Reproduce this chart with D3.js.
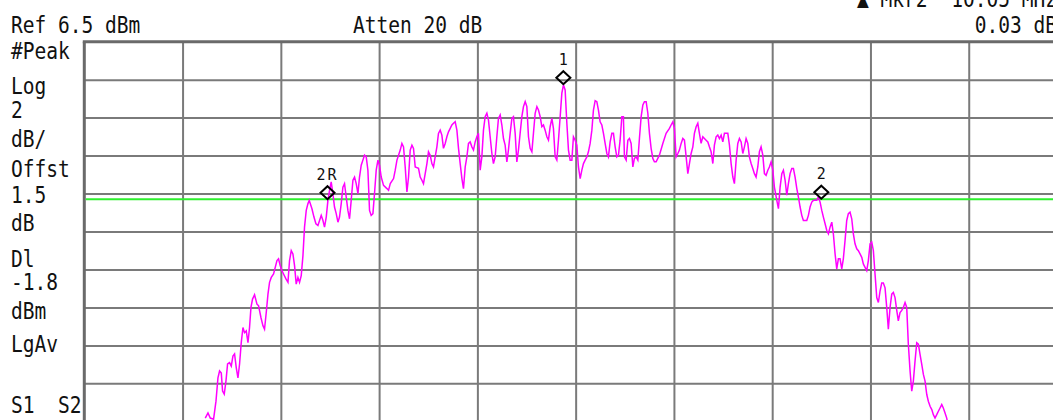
<!DOCTYPE html>
<html>
<head>
<meta charset="utf-8">
<script src="https://cdn.jsdelivr.net/npm/d3@7"></script>
<style>
  html, body { margin: 0; padding: 0; background: #fff; overflow: hidden; }
  svg { display: block; }
  text { font-family: "DejaVu Sans Mono", "Liberation Mono", monospace; fill: #111; }
</style>
</head>
<body>
<svg id="chart" width="1053" height="420"></svg>
<script>
// Instrument settings
const refLevel = 6.5;        // dBm at top graticule line
const dbPerDiv = 2;
const divisions = 10;
const centerOffset = 0;      // MHz, trace frequencies are offsets from centre
const spanMHz = 20;
const displayLine = -1.8;    // dBm

// Trace: frequency offset (MHz) and level (dBm)
const traceFreq = [
  -7.538,-7.483,-7.436,-7.369,-7.320,-7.280,-7.247,-7.212,-7.186,-7.152,
  -7.117,-7.084,-7.044,-7.009,-6.975,-6.942,-6.907,-6.873,-6.840,-6.806,
  -6.771,-6.739,-6.704,-6.669,-6.637,-6.608,-6.576,-6.535,-6.486,-6.454,
  -6.405,-6.364,-6.332,-6.297,-6.262,-6.230,-6.195,-6.148,-6.114,-6.079,
  -6.047,-6.012,-5.978,-5.945,-5.896,-5.855,-5.823,-5.788,-5.754,-5.721,
  -5.687,-5.652,-5.619,-5.585,-5.550,-5.518,-5.483,-5.448,-5.422,-5.367,
  -5.326,-5.286,-5.245,-5.212,-5.178,-5.143,-5.111,-5.076,-5.042,-5.009,
  -4.975,-4.940,-4.908,-4.873,-4.838,-4.806,-4.771,-4.737,-4.704,-4.670,
  -4.635,-4.602,-4.568,-4.533,-4.500,-4.466,-4.431,-4.399,-4.364,-4.330,
  -4.297,-4.262,-4.228,-4.195,-4.161,-4.126,-4.094,-4.059,-4.024,-3.992,
  -3.957,-3.910,-3.841,-3.808,-3.773,-3.706,-3.672,-3.637,-3.570,-3.536,
  -3.503,-3.469,-3.434,-3.401,-3.367,-3.332,-3.300,-3.265,-3.198,-3.164,
  -3.129,-3.097,-3.062,-3.027,-2.995,-2.960,-2.926,-2.893,-2.859,-2.824,
  -2.792,-2.757,-2.723,-2.690,-2.655,-2.621,-2.588,-2.553,-2.519,-2.486,
  -2.452,-2.417,-2.384,-2.350,-2.315,-2.283,-2.248,-2.214,-2.181,-2.147,
  -2.112,-2.079,-2.045,-2.011,-1.978,-1.943,-1.909,-1.876,-1.842,-1.807,
  -1.774,-1.740,-1.705,-1.673,-1.638,-1.604,-1.571,-1.536,-1.502,-1.469,
  -1.435,-1.400,-1.368,-1.333,-1.298,-1.266,-1.231,-1.197,-1.164,-1.130,
  -1.095,-1.062,-1.027,-0.993,-0.960,-0.926,-0.891,-0.859,-0.824,-0.789,
  -0.757,-0.722,-0.688,-0.655,-0.621,-0.586,-0.553,-0.519,-0.484,-0.452,
  -0.417,-0.383,-0.350,-0.315,-0.281,-0.248,-0.214,-0.179,-0.146,-0.112,
  -0.077,-0.045,-0.010,0.024,0.057,0.092,0.126,0.159,0.193,0.228,
  0.260,0.295,0.330,0.362,0.397,0.431,0.464,0.498,0.533,0.566,
  0.600,0.635,0.667,0.702,0.737,0.769,0.804,0.838,0.871,0.905,
  0.940,0.972,0.993,1.028,1.062,1.095,1.129,1.164,1.196,1.231,
  1.266,1.298,1.333,1.368,1.400,1.435,1.469,1.502,1.536,1.571,
  1.603,1.638,1.672,1.705,1.774,1.841,1.909,1.943,1.978,2.010,
  2.045,2.080,2.112,2.147,2.181,2.214,2.249,2.283,2.316,2.350,
  2.385,2.417,2.452,2.486,2.519,2.553,2.588,2.621,2.655,2.690,
  2.722,2.757,2.792,2.824,2.859,2.893,2.926,2.961,2.995,3.028,
  3.062,3.097,3.130,3.164,3.199,3.231,3.266,3.300,3.333,3.368,
  3.402,3.435,3.469,3.504,3.536,3.571,3.605,3.638,3.672,3.707,
  3.740,3.774,3.809,3.842,3.876,3.911,3.943,3.978,4.013,4.045,
  4.094,4.127,4.161,4.196,4.228,4.263,4.297,4.330,4.364,4.399,
  4.432,4.466,4.501,4.533,4.568,4.602,4.635,4.704,4.737,4.771,
  4.806,4.838,4.907,4.940,4.975,5.009,5.042,5.077,5.111,5.144,
  5.178,5.213,5.245,5.280,5.314,5.347,5.381,5.416,5.448,5.483,
  5.517,5.550,5.584,5.619,5.652,5.686,5.721,5.754,5.788,5.823,
  5.855,5.890,5.924,5.957,5.992,6.026,6.059,6.093,6.128,6.161,
  6.195,6.230,6.262,6.297,6.331,6.364,6.399,6.433,6.466,6.500,
  6.535,6.567,6.602,6.637,6.669,6.704,6.738,6.771,6.806,6.840,
  6.873,6.907,6.942,6.975,7.009,7.044,7.077,7.111,7.146,7.178,
  7.213,7.248,7.280,7.314,7.349,7.382,7.416,7.451,7.483,7.518,
  7.552,7.579
];
const traceLevel = [
  -13.33,-13.06,-13.33,-13.39,-12.44,-11.21,-10.85,-10.96,-11.91,-12.07,
  -11.38,-10.48,-10.41,-10.59,-10.06,-9.95,-10.68,-11.21,-10.48,-9.36,
  -8.56,-8.83,-8.74,-9.36,-8.56,-7.50,-7.06,-6.83,-7.33,-7.41,
  -8.03,-8.47,-8.65,-7.77,-6.80,-6.18,-5.92,-5.74,-5.39,-5.03,
  -4.94,-5.30,-5.56,-5.74,-6.00,-6.18,-5.03,-4.51,-4.68,-5.30,
  -6.27,-5.92,-6.18,-5.83,-4.77,-3.27,-2.39,-2.03,-1.86,-2.30,
  -2.74,-3.09,-3.18,-2.92,-2.65,-2.92,-3.27,-2.74,-1.86,-1.33,
  -0.89,-1.51,-2.21,-2.56,-3.01,-2.74,-2.03,-1.16,-0.98,-1.68,
  -2.39,-2.83,-1.86,-0.80,-0.63,-0.98,-1.51,-0.63,-0.01,0.26,
  0.52,0.43,-0.27,-2.39,-2.65,-2.56,-1.51,-0.27,0.26,-0.01,
  -0.63,-1.07,-1.24,-1.33,-0.98,-0.71,-0.27,0.26,0.79,1.14,
  0.96,-0.10,-1.42,-0.63,0.79,1.05,0.88,-0.10,-0.17,-0.63,
  -0.80,-0.98,-0.45,0.08,0.70,0.52,0.08,-0.10,0.43,0.96,
  1.67,1.84,1.58,0.88,1.14,1.49,1.75,1.93,2.11,2.20,
  2.28,1.84,0.88,0.08,-0.71,-1.24,-0.10,0.43,1.14,1.22,
  0.96,0.79,1.22,1.49,1.67,-0.27,0.43,1.84,2.55,2.73,
  2.37,1.49,0.61,0.08,0.43,1.49,2.46,2.64,2.11,1.40,
  1.05,0.17,0.79,1.67,2.46,2.55,1.67,0.17,0.79,1.67,
  2.55,3.08,3.34,3.08,1.49,0.88,0.70,1.67,2.73,3.08,
  2.90,2.55,2.02,2.11,1.84,1.49,1.31,2.02,2.46,1.93,
  0.43,0.26,1.31,2.55,3.79,4.22,3.96,2.20,0.79,0.26,
  0.26,1.49,1.31,1.05,-0.10,-0.71,-0.27,0.08,0.26,0.43,
  0.70,1.14,1.84,2.90,3.39,3.34,2.90,2.28,2.11,1.67,
  1.14,0.61,0.43,1.22,1.67,1.67,0.96,0.43,0.52,1.31,
  2.55,2.55,0.43,0.26,1.31,1.40,1.14,-0.10,0.35,0.43,
  0.26,1.40,2.55,3.17,3.34,3.34,2.73,1.67,0.88,0.35,
  0.17,0.17,0.35,0.52,1.14,1.67,1.93,2.11,2.28,1.93,
  0.43,0.61,0.79,1.14,1.40,1.31,0.43,-0.45,0.08,0.61,
  0.96,1.67,2.02,2.20,1.67,1.14,1.49,1.40,1.31,1.22,
  0.96,0.70,0.08,1.05,1.49,1.58,1.40,1.58,1.22,1.67,
  1.67,1.67,1.05,0.08,-0.63,-0.98,0.26,1.14,1.40,1.22,
  0.61,0.96,1.40,1.14,0.43,0.08,-0.18,-0.45,-0.63,-0.10,
  0.70,0.96,0.52,-0.45,-0.54,-0.27,-0.10,0.17,-0.27,-1.16,
  -1.86,-2.30,-1.16,-0.45,-0.27,-0.80,-1.58,-0.98,-0.45,-0.18,
  -0.18,-0.63,-1.24,-1.68,-2.21,-2.65,-2.92,-2.92,-2.65,-2.21,
  -1.95,-1.86,-1.86,-1.68,-1.95,-2.39,-2.74,-3.09,-3.45,-3.62,
  -3.27,-3.01,-3.62,-4.68,-5.47,-4.94,-4.94,-5.47,-4.94,-3.97,
  -2.92,-2.56,-2.48,-2.83,-3.62,-4.15,-4.41,-4.51,-4.68,-4.86,
  -5.21,-5.39,-5.56,-5.03,-4.15,-4.06,-4.51,-5.74,-6.98,-7.24,
  -6.64,-6.21,-6.21,-6.47,-7.50,-8.65,-7.50,-6.80,-6.71,-6.98,
  -7.66,-8.21,-7.77,-7.66,-7.50,-7.24,-7.50,-9.44,-10.85,-11.91,
  -11.38,-10.33,-9.36,-9.44,-9.97,-10.50,-11.03,-11.38,-12.09,-12.44,
  -12.71,-12.88,-13.15,-13.33,-13.15,-12.97,-12.80,-12.62,-12.80,-13.06,
  -13.33,-13.73
];

// Markers
const markerNames = ["1", "2R", "2"];
const markerFreq  = [-0.25, -5.05, 5.00];
const markerLevel = [4.26, -1.80, -1.77];

// Annotation text
const headerLeft = "Ref 6.5 dBm";
const headerMid = "Atten 20 dB";
const deltaFreqText = "\u25B2 Mkr2  10.05 MHz";
const deltaAmpText = "0.03 dB";
const sideLabels = ["#Peak", "Log", "2", "dB/", "Offst", "1.5", "dB", "Dl", "-1.8", "dBm", "LgAv", "S1  S2"];

// ---- layout ----
const W = 1053, H = 420;
const plot = { left: 84.3, top: 41.7, width: 982.7, height: 379.6 };
const fontSize = 23, squeeze = 0.85;   // tall, narrow status font

const svg = d3.select("#chart");

const x = d3.scaleLinear()
  .domain([centerOffset - spanMHz / 2, centerOffset + spanMHz / 2])
  .range([plot.left, plot.left + plot.width]);
const y = d3.scaleLinear()
  .domain([refLevel - dbPerDiv * divisions, refLevel])
  .range([plot.top + plot.height, plot.top]);

const xDiv = d3.range(1, divisions).map(i => x.domain()[0] + i * spanMHz / divisions);
const yDiv = d3.range(1, divisions + 1).map(i => refLevel - i * dbPerDiv);

// graticule
const gridColor = "#7a7a7a";
const gx = svg.append("g")
  .attr("transform", `translate(0,${plot.top})`)
  .call(d3.axisBottom(x).tickValues(xDiv).tickSize(plot.height).tickFormat(""));
const gy = svg.append("g")
  .attr("transform", `translate(${plot.left},0)`)
  .call(d3.axisRight(y).tickValues(yDiv).tickSize(plot.width).tickFormat(""));
[gx, gy].forEach(g => {
  g.select(".domain").remove();
  g.selectAll(".tick line").attr("stroke", gridColor).attr("stroke-width", 2);
});

// heavier frame on top and left edges
svg.append("line")
  .attr("x1", plot.left - 1.5).attr("x2", W + 5)
  .attr("y1", y(refLevel)).attr("y2", y(refLevel))
  .attr("stroke", "#6a6a6a").attr("stroke-width", 3);
svg.append("line")
  .attr("x1", x(x.domain()[0])).attr("x2", x(x.domain()[0]))
  .attr("y1", plot.top).attr("y2", H + 5)
  .attr("stroke", "#6a6a6a").attr("stroke-width", 3);

// display line
svg.append("line")
  .attr("x1", plot.left + 1.5).attr("x2", W + 5)
  .attr("y1", y(displayLine)).attr("y2", y(displayLine))
  .attr("stroke", "#2ef02e").attr("stroke-width", 2);

// trace
const traceData = traceFreq.map((f, i) => ({ f, v: traceLevel[i] }));
svg.append("path")
  .datum(traceData)
  .attr("fill", "none")
  .attr("stroke", "#ff00ff")
  .attr("stroke-width", 1.5)
  .attr("stroke-linejoin", "miter")
  .attr("d", d3.line().x(d => x(d.f)).y(d => y(d.v)));

// markers: diamond resting on the marked point, number above
const markers = markerNames.map((name, i) => ({ name, f: markerFreq[i], v: markerLevel[i] }));
const mg = svg.append("g").selectAll("g").data(markers).join("g")
  .attr("transform", d => `translate(${x(d.f)},${y(d.v) - 6.5})`);
mg.append("path")
  .attr("d", "M0,-6.5L7,0L0,6.5L-7,0Z")
  .attr("fill", "none")
  .attr("stroke", "#000")
  .attr("stroke-width", 2);
mg.append("text")
  .attr("y", -13)
  .attr("text-anchor", "middle")
  .style("font-size", "15px")
  .attr("letter-spacing", d => d.name.length > 1 ? 2 : 0)
  .text(d => d.name);

// status texts, drawn in a condensed form of the mono font
function status(g, label, px, py, anchor) {
  return g.append("text")
    .attr("transform", `translate(${px},${py}) scale(${squeeze},1)`)
    .attr("text-anchor", anchor || "start")
    .attr("xml:space", "preserve")
    .style("white-space", "pre")
    .style("font-size", fontSize + "px")
    .text(label);
}

const hdr = svg.append("g");
status(hdr, headerLeft, 11, 33.3);
status(hdr, headerMid, 353, 33.3);
status(hdr, deltaFreqText, 1057, 6.7, "end");
status(hdr, deltaAmpText, 1057, 32.7, "end");

// left-hand status column
const sideBaselines = [58.5, 94.3, 118.3, 146.7, 177.3, 203.3, 230.7, 267.3, 290, 319.3, 351.7, 413.3];
const side = svg.append("g");
sideLabels.forEach((lbl, i) => status(side, lbl, 11, sideBaselines[i]));
</script>
</body>
</html>
